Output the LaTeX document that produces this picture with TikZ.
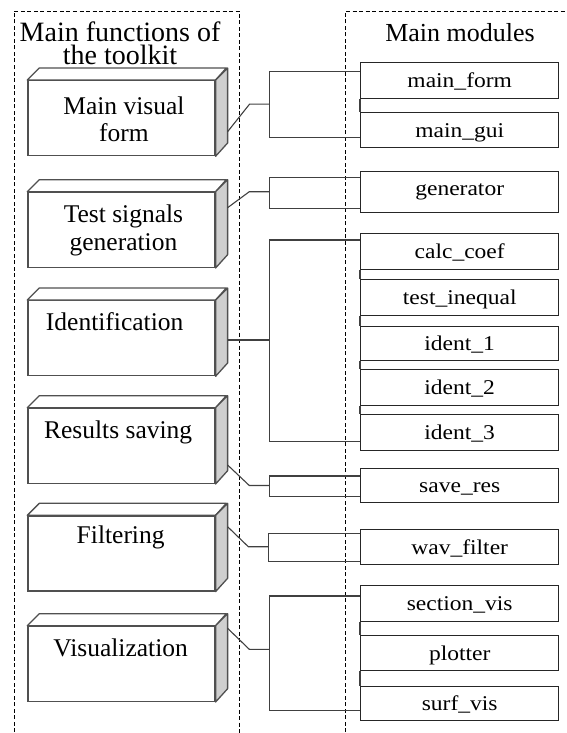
\documentclass[tikz,border=0pt]{standalone}
\usepackage{fontspec}
\setmainfont{Liberation Serif}
\newfontfamily\modfont{Liberation Serif}[FakeStretch=1.12]
\usetikzlibrary{calc}
\definecolor{edgegray}{HTML}{505050}
\definecolor{sidegray}{HTML}{CFCFCF}
\definecolor{linegray}{HTML}{404040}
\tikzset{
  frame/.style={draw=black, line width=0.9pt, dash pattern=on 4pt off 2.5pt},
  face/.style={draw=edgegray, line width=1.3pt, fill=white, minimum width=187pt,
    minimum height=75pt, inner sep=0pt, anchor=north west},
  topface/.style={draw=edgegray, line width=1.3pt, fill=white, line join=round},
  sideface/.style={draw=edgegray, line width=1.3pt, fill=sidegray, line join=round},
  funclabel/.style={font=\fontsize{25.5}{27.5}\selectfont, align=center,
    anchor=base, inner sep=0pt},
  modbox/.style={draw=black!85, line width=1.1pt, fill=white, minimum width=198.3pt,
    minimum height=35.5pt, anchor=north west, inner sep=0pt,
    font=\modfont\fontsize{21}{21}\selectfont, text height=15pt, text depth=1pt},
  conn/.style={draw=linegray, line width=1.1pt},
  heading/.style={anchor=base, inner sep=0pt, align=center}
}
\begin{document}
\begin{tikzpicture}[x=1pt, y=-1pt]
\useasboundingbox (0,0) rectangle (567,733);
\clip (0,0) rectangle (567,733);

% dashed frames of the two columns
\draw[frame] (14,745) -- (14,11) -- (239,11) -- (239,745);
\draw[frame] (345.7,745) -- (345.7,11) -- (580,11);

% column headings (base anchor sits on the last line)
\node[heading, font=\fontsize{28}{22.6}\selectfont] (hfun) at (120,64.3)
  {Main functions of\\the toolkit};
\node[heading, font=\fontsize{26}{26}\selectfont] (hmod) at (460,41.7) {Main modules};

% functions: boxes drawn as solid blocks
\foreach \n/\t in {1/80, 2/191.7, 3/300, 4/407.7, 5/515.3, 6/625.7} {
  \node[face] (f\n) at (27.3,\t) {};
  \draw[topface] (f\n.north west) -- ++(12,-12) -- ++(187,0) -- (f\n.north east) -- cycle;
  \draw[sideface] (f\n.north east) -- ++(12,-12) -- ++(0,75) -- (f\n.south east) -- cycle;
}
\node[funclabel] (l1) at ($(f1.north)+(2.5,61.7)$) {Main visual\\form};
\node[funclabel] (l2) at ($(f2.north)+(2,58.3)$) {Test signals\\generation};
\node[funclabel] (l3) at ($(f3.north)+(-6.8,30)$) {Identification};
\node[funclabel] (l4) at ($(f4.north)+(-3.3,30.6)$) {Results saving};
\node[funclabel] (l5) at ($(f5.north)+(-0.8,27.7)$) {Filtering};
\node[funclabel] (l6) at ($(f6.north)+(-0.8,31)$) {Visualization};

% modules
\node[modbox] (mform) at (360,62.3) {main\_form};
\node[modbox, minimum height=34.4pt] (mgui) at (360,112.3) {main\_gui};
\node[modbox, minimum height=41.8pt, text depth=8pt] (mgen) at (360,170.5) {generator};
\node[modbox] (mcalc) at (360,233.3) {calc\_coef};
\node[modbox] (mtest) at (360,279.3) {test\_inequal};
\node[modbox, minimum height=34.3pt] (mid1) at (360,325.7) {ident\_1};
\node[modbox] (mid2) at (360,369.3) {ident\_2};
\node[modbox] (mid3) at (360,414.3) {ident\_3};
\node[modbox, minimum height=34pt] (msave) at (360,467.7) {save\_res};
\node[modbox, minimum height=35.3pt] (mwav) at (360,529) {wav\_filter};
\node[modbox] (msec) at (360,585) {section\_vis};
\node[modbox, minimum height=35pt] (mplot) at (360,635) {plotter};
\node[modbox, minimum height=34.3pt] (msurf) at (360,685.7) {surf\_vis};

% junction points on the brackets
\coordinate (j1) at (269.3,104.2);
\coordinate (j2) at (269.3,191.7);
\coordinate (j3) at (269.3,340);
\coordinate (j4) at (269.3,485.5);
\coordinate (j5) at (268.3,546.7);
\coordinate (j6) at (269.3,649.3);

% start points on the side faces and elbows
\coordinate (s1) at ($(f1.north east)+(12,51.7)$);
\coordinate (s2) at ($(f2.north east)+(12,16)$);
\coordinate (s3) at ($(f3.north east)+(12,40)$);
\coordinate (s4) at ($(f4.north east)+(12,57.3)$);
\coordinate (s5) at ($(f5.north east)+(12,11.4)$);
\coordinate (s6) at ($(f6.north east)+(12,2.6)$);
\coordinate (e1) at (249.5,104.2);
\coordinate (e2) at (249.3,191.7);
\coordinate (e4) at (249.3,485.5);
\coordinate (e5) at (248.3,546.7);
\coordinate (e6) at (249.3,649.3);

% connectors from functions to brackets
\draw[conn] (s1) -- (e1) -- (j1);
\draw[conn] (s2) -- (e2) -- (j2);
\draw[conn] (s3) -- (j3);
\draw[conn] (s4) -- (e4) -- (j4);
\draw[conn] (s5) -- (e5) -- (j5);
\draw[conn] (s6) -- (e6) -- (j6);

% brackets grouping the modules
\draw[conn] ($(mform.north west)+(0,9.4)$) -| (j1) |- ($(mgui.south west)+(0,-10)$);
\draw[conn] ($(mgen.north west)+(0,6.8)$) -| (j2) |- ($(mgen.south west)+(0,-4.6)$);
\draw[conn] ($(mcalc.north west)+(0,6.7)$) -| (j3) |- ($(mid3.south west)+(0,-9.3)$);
\draw[conn] ($(msave.north west)+(0,8.3)$) -| (j4) |- ($(msave.south west)+(0,-6.7)$);
\draw[conn] ($(mwav.north west)+(0,4.3)$) -| (j5) |- ($(mwav.south west)+(0,-4.3)$);
\draw[conn] ($(msec.north west)+(0,11)$) -| (j6) |- ($(msurf.south west)+(0,-10.7)$);

% links between stacked modules
\draw[conn] (mform.south west) -- (mgui.north west);
\draw[conn] (mcalc.south west) -- (mtest.north west);
\draw[conn] (mtest.south west) -- (mid1.north west);
\draw[conn] (mid1.south west) -- (mid2.north west);
\draw[conn] (mid2.south west) -- (mid3.north west);
\draw[conn] (msec.south west) -- (mplot.north west);
\draw[conn] (mplot.south west) -- (msurf.north west);
\end{tikzpicture}
\end{document}
